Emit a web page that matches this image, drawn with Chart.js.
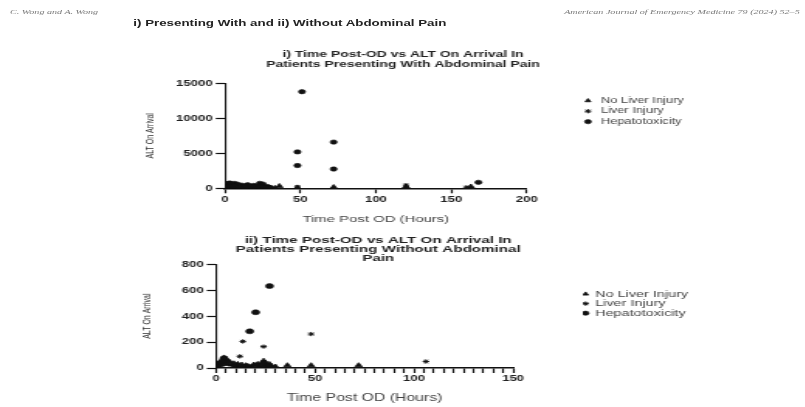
<!DOCTYPE html>
<html>
<head>
<meta charset="utf-8">
<script src="https://cdn.jsdelivr.net/npm/chart.js@4.4.0/dist/chart.umd.min.js"></script>
<style>
  html, body { margin: 0; padding: 0; background: #fff; overflow: hidden; width: 805px; height: 407px; }
  #page { position: absolute; left: 0; top: 0; width: 520px; height: 407px; transform: scaleX(1.55); transform-origin: 0 0; }
  .txt { position: absolute; white-space: nowrap; line-height: 1; }
  canvas { position: absolute; }
</style>
</head>
<body>
<div id="page">
  <div class="txt" style="left:6.5px;top:8px;font:italic 6.5px 'Liberation Serif';color:#777;">C. Wong and A. Wong</div>
  <div class="txt" style="left:364px;top:8px;font:italic 6.5px 'Liberation Serif';color:#777;">American Journal of Emergency Medicine 79 (2024) 52–5</div>
  <div class="txt" style="left:86px;top:17.5px;font:bold 8.6px 'Liberation Sans';color:#222;">i) Presenting With and ii) Without Abdominal Pain</div>
  <canvas id="c1" width="426" height="198" style="left:47px;top:30px;"></canvas>
  <canvas id="c2" width="464" height="179" style="left:12px;top:228px;"></canvas>
</div>
<script>
// ---------- data ----------
const legendLabels = ['No Liver Injury', 'Liver Injury', 'Hepatotoxicity'];

const topTitle = ['i) Time Post-OD vs ALT On Arrival In', 'Patients Presenting With Abdominal Pain'];
const botTitle = ['ii) Time Post-OD vs ALT On Arrival In', 'Patients Presenting Without Abdominal', 'Pain'];
const xTitle = 'Time Post OD (Hours)';
const yTitle = 'ALT On Arrival';

// top chart (with abdominal pain)
const topNoInjuryHours = [0.5,1,1.5,2,3,3.5,4,5,5.5,6,7,8,9,10,11,12,13,14,15,16,17,18,19,20,21,22,23,24,25,26,27,28,29,30,31,33,36,48,72,120,163];
const topNoInjuryALT   = [40,120,60,200,90,300,50,150,30,250,80,120,60,180,40,100,70,220,50,130,90,60,150,40,110,70,200,130,60,90,40,70,30,50,20,30,300,80,150,250,230];
const topLiverHours = [2,5,9,13,18,22,26,30,48,120,160];
const topLiverALT   = [400,550,300,350,250,450,200,120,200,450,150];
const topHepatoHours = [1,3,6,8,11,15,19,23,25,28,48,48,51,72,72,168];
const topHepatoALT   = [650,750,700,600,450,500,400,700,600,250,3250,5200,13800,6600,2750,850];
const topXTicks = [0, 50, 100, 150, 200];
const topYTicks = [0, 5000, 10000, 15000];

// bottom chart (without abdominal pain)
const botNoInjuryHours = [0.5,1,1.5,2,2.5,3,3.5,4,4.5,5,5.5,6,7,8,9,10,11,12,13,14,15,16,18,19,20,21,22,23,24,25,26,27,28,30,36,48,72];
const botNoInjuryALT   = [20,35,15,45,25,60,40,80,55,70,30,50,45,25,35,20,30,15,25,10,20,15,10,25,20,30,15,35,55,40,20,30,15,10,20,20,20];
const botLiverHours = [3,6,9,12,13.5,17,21,24,24,48,106];
const botLiverALT   = [30,50,20,90,205,15,25,165,45,262,50];
const botHepatoHours = [4,10,17,20,25,27];
const botHepatoALT   = [75,20,283,430,20,632];
const botXTicks = [0, 50, 100, 150];
const botYTicks = [0, 200, 400, 600, 800];

// ---------- helpers ----------
function pts(xs, ys) { return xs.map((x, i) => ({ x: x, y: ys[i] })); }
const INK = '#111';
const FAM = "'Liberation Sans', Arial, sans-serif";

function datasets(nx, ny, lx, ly, hx, hy, circR) {
  return [
    { label: legendLabels[0], data: pts(nx, ny), pointStyle: 'triangle', pointRadius: 2.7,
      backgroundColor: INK, borderColor: INK, borderWidth: 0.8, yAxisID: 'y', xAxisID: 'x' },
    { label: legendLabels[1], data: pts(lx, ly), pointStyle: 'star', pointRadius: 2.1,
      backgroundColor: INK, borderColor: INK, borderWidth: 1, yAxisID: 'y', xAxisID: 'x' },
    { label: legendLabels[2], data: pts(hx, hy), pointStyle: 'circle', pointRadius: circR,
      backgroundColor: INK, borderColor: INK, borderWidth: 0.6, yAxisID: 'y', xAxisID: 'x' }
  ];
}

// keeps the legend column at a fixed width so the plot keeps its place
function fixedLegendWidth(w) {
  return {
    id: 'fixedLegendWidth',
    beforeLayout(chart) {
      const lg = chart.legend;
      if (lg && !lg.__fixedW) {
        const orig = lg.fit.bind(lg);
        lg.fit = function () { orig(); this.width = w; };
        lg.__fixedW = true;
      }
    }
  };
}

function makeChart(id, g) {
  const xMin = g.xTicks[0], xMax = g.xTicks[g.xTicks.length - 1];
  const yMin = g.yTicks[0], yMax = g.yTicks[g.yTicks.length - 1];
  const xStepMajor = g.xTicks[1] - g.xTicks[0];
  return new Chart(document.getElementById(id), {
    type: 'scatter',
    data: { datasets: g.datasets },
    plugins: [fixedLegendWidth(100)],
    options: {
      responsive: false, animation: false, devicePixelRatio: 1,
      layout: { padding: 0 },
      plugins: {
        title: { display: true, text: g.title, color: '#222',
          font: { family: FAM, size: g.titleSize, weight: 'bold', lineHeight: g.titleLH },
          padding: g.titlePad },
        legend: { position: 'right', align: 'start', fullSize: false,
          title: { display: true, text: ' ', font: { size: 1, lineHeight: 1 }, padding: { top: g.legendTop, bottom: 0 } },
          labels: { usePointStyle: true, boxHeight: 3, boxWidth: g.legendBoxW, padding: g.legendPad, color: '#444',
            font: { family: FAM, size: g.legendSize } } },
        tooltip: { enabled: false }
      },
      scales: {
        x: { type: 'linear', position: 'bottom', min: xMin, max: xMax,
          afterFit: s => { s.height = g.xAxisH; },
          afterBuildTicks: s => {
            const out = [];
            for (let v = xMin; v <= xMax + 1e-9; v += g.xMinorStep) out.push({ value: v });
            s.ticks = out;
          },
          ticks: { autoSkip: false, maxRotation: 0, color: '#222', padding: g.xTickPad,
            font: { family: FAM, size: 8.5, weight: 'bold' },
            callback: v => (Math.abs(v % xStepMajor) < 1e-9 ? String(v) : '') },
          grid: { drawOnChartArea: false, drawTicks: true, tickLength: 5, tickColor: INK, tickWidth: 1.2 },
          border: { color: INK, width: 1.5 },
          title: { display: true, text: xTitle, color: '#444', font: { family: FAM, size: g.xTitleSize, lineHeight: 1.2 },
            padding: { top: 0, bottom: g.xTitlePadB } } },
        y: { type: 'linear', position: 'left', min: yMin, max: yMax,
          afterFit: s => { s.width = g.yAxisW; },
          afterBuildTicks: s => { s.ticks = g.yTicks.map(v => ({ value: v })); },
          ticks: { color: '#222', padding: 2, font: { family: FAM, size: 8.5, weight: 'bold' }, callback: v => String(v) },
          grid: { drawOnChartArea: false, drawTicks: true, tickLength: 6, tickColor: INK, tickWidth: 1.2 },
          border: { color: INK, width: 1.1 },
          title: { display: true, text: yTitle, color: '#333', font: { family: FAM, size: 7, lineHeight: 1.2 },
            padding: { top: g.yTitlePadT, bottom: 0 } } },
        gap: { type: 'linear', axis: 'y', position: 'right', display: true,
          afterFit: s => { s.width = g.gapW; },
          ticks: { display: false }, grid: { display: false }, border: { display: false } }
      }
    }
  });
}

makeChart('c1', {
  datasets: datasets(topNoInjuryHours, topNoInjuryALT, topLiverHours, topLiverALT, topHepatoHours, topHepatoALT, 2.2),
  title: topTitle, titleSize: 9, titleLH: 1.111, titlePad: { top: 20, bottom: 13.3 },
  legendTop: 10.05, legendPad: 2.2, legendSize: 8.3, legendBoxW: 40,
  xTicks: topXTicks, yTicks: topYTicks, xMinorStep: 50,
  xAxisH: 39.7, xTickPad: 1.6, xTitleSize: 9.6, xTitlePadB: 2.5,
  yAxisW: 98.2, yTitlePadT: 45.6, gapW: 33.2
});

makeChart('c2', {
  datasets: datasets(botNoInjuryHours, botNoInjuryALT, botLiverHours, botLiverALT, botHepatoHours, botHepatoALT, 2.5),
  title: botTitle, titleSize: 9.8, titleLH: 0.94, titlePad: { top: 7.4, bottom: 1.3 },
  legendTop: 23.75, legendPad: 0.3, legendSize: 9.3, legendBoxW: 3,
  xTicks: botXTicks, yTicks: botYTicks, xMinorStep: 5,
  xAxisH: 39, xTickPad: 0.9, xTitleSize: 10.2, xTitlePadB: 3,
  yAxisW: 127.4, yTitlePadT: 78.6, gapW: 45
});
</script>
</body>
</html>
